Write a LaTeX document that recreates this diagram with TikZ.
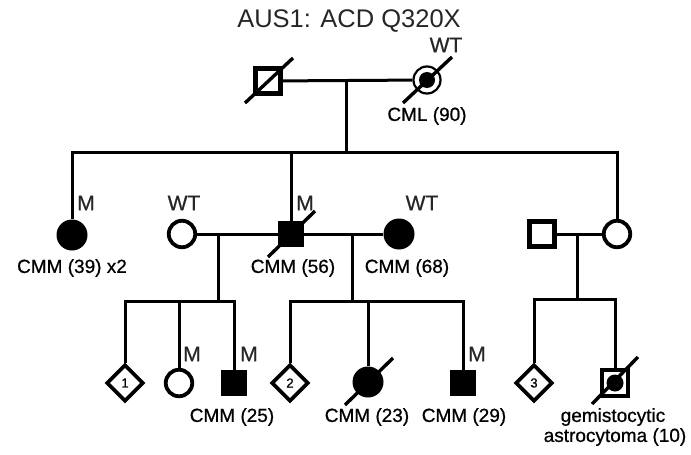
\documentclass[tikz,border=0pt]{standalone}
\usepackage{fontspec}
\setmainfont{Liberation Sans}
\newfontfamily\labfont{Liberation Sans}[FakeBold=0.7]
\usetikzlibrary{shapes.geometric,calc}
\begin{document}
\begin{tikzpicture}[x=1pt,y=-1pt,
 conn/.style={line width=3pt},
 dec/.style={line width=3.4pt},
 aff/.style={circle,fill=black,minimum size=31pt,inner sep=0pt},
 unaff/.style={circle,draw,line width=3.8pt,fill=white,minimum size=26.5pt,inner sep=0pt},
 affsq/.style={rectangle,fill=black,minimum size=26pt,inner sep=0pt},
 unsq/.style={rectangle,draw,line width=4.2pt,fill=white,minimum size=25pt,inner sep=0pt},
 dia/.style={diamond,draw,line width=3.6pt,fill=white,minimum size=37pt,inner sep=0pt,font=\labfont\fontsize{13}{13}\selectfont},
 lab/.style={font=\labfont\fontsize{19}{19}\selectfont,inner sep=0pt},
 gen/.style={font=\labfont\fontsize{21}{21}\selectfont,inner sep=0pt,text=black!85},
]
\useasboundingbox (0,0) rectangle (691,455);
% title
\node[font=\fontsize{25.5}{25.5}\selectfont,text=black!85,inner sep=0pt] (title) at (349,21) {AUS1: ACD Q320X};
% generation I
\node[unsq] (I1) at (268,81) {};
\node[circle,draw,line width=2.2pt,fill=white,minimum size=27pt,inner sep=0pt] (I2) at (427,80) {};
\node[circle,fill=black,minimum size=16pt,inner sep=0pt] (I2dot) at (427,80) {};
\draw[dec] ($(I1)+(-23,22)$) -- ($(I1)+(25,-23)$);
\draw[dec] ($(I2)+(-24,23)$) -- ($(I2)+(25,-23)$);
\node[gen] (I2g) at (446,45) {WT};
\node[lab] (I2l) at (427,116) {CML (90)};
\coordinate (mI) at (346,80);
\coordinate (sI) at (346,152);
\draw[conn] (I1) -- (I2);
% generation II
\node[aff] (II1) at (72,235) {};
\node[unaff] (II2) at (182,234) {};
\node[affsq] (II3) at (291,234) {};
\node[aff] (II4) at (399,234) {};
\node[unsq] (II5) at (542,234) {};
\node[unaff] (II6) at (617,234) {};
\draw[conn] (mI) -- (sI);
\draw[conn] (II1.north) |- (sI) -| (II6.north);
\draw[conn] (II3.north) -- (II3.north |- sI);
\draw[conn] (II2) -- (II3);
\draw[conn] (II3) -- (II4);
\draw[conn] (II5) -- (II6);
\draw[dec] ($(II3)+(-23,23)$) -- ($(II3)+(24,-23)$);
\node[gen] (II1g) at (86,203) {M};
\node[gen] (II2g) at (184,203) {WT};
\node[gen] (II3g) at (305,203) {M};
\node[gen] (II4g) at (422,203) {WT};
\node[lab] (II1l) at (72,268) {CMM (39) x2};
\node[lab] (II3l) at (293,268) {CMM (56)};
\node[lab] (II4l) at (407,268) {CMM (68)};
% generation III
\coordinate (m2) at (218,234);
\coordinate (s2) at (218,301);
\coordinate (m3) at (352,234);
\coordinate (s3) at (352,301);
\coordinate (m4) at (577,234);
\coordinate (s4) at (577,299);
\node[dia] (III1) at (125,383) {1};
\node[unaff] (III2) at (179,383) {};
\node[affsq] (III3) at (234,383) {};
\node[dia] (III4) at (290,383) {2};
\node[aff] (III5) at (368,382) {};
\node[affsq] (III6) at (463,383) {};
\node[dia] (III7) at (534,383) {3};
\node[unsq,minimum size=26pt] (III8) at (615,383) {};
\node[circle,fill=black,minimum size=17pt,inner sep=0pt] (III8dot) at (615,383) {};
\draw[conn] (m2) -- (s2);
\draw[conn] (m3) -- (s3);
\draw[conn] (m4) -- (s4);
\draw[conn] (III1.north) |- (s2) -| (III3.north);
\draw[conn] (III2.north) -- (III2.north |- s2);
\draw[conn] (III4.north) |- (s3) -| (III6.north);
\draw[conn] (III5.north) -- (III5.north |- s3);
\draw[conn] (III7.north) |- (s4) -| (III8.north);
\draw[dec] ($(III5)+(-23,23)$) -- ($(III5)+(25,-24)$);
\draw[dec] ($(III8)+(-23,21)$) -- ($(III8)+(23,-26)$);
\node[gen] (III2g) at (192,354) {M};
\node[gen] (III3g) at (249,354) {M};
\node[gen] (III6g) at (477,354) {M};
\node[lab] (III3l) at (232,417) {CMM (25)};
\node[lab] (III5l) at (367,417) {CMM (23)};
\node[lab] (III6l) at (464,417) {CMM (29)};
\node[lab] (III8l) at (613,417) {gemistocytic};
\node[lab] (III8m) at (615,437) {astrocytoma (10)};
\end{tikzpicture}
\end{document}
